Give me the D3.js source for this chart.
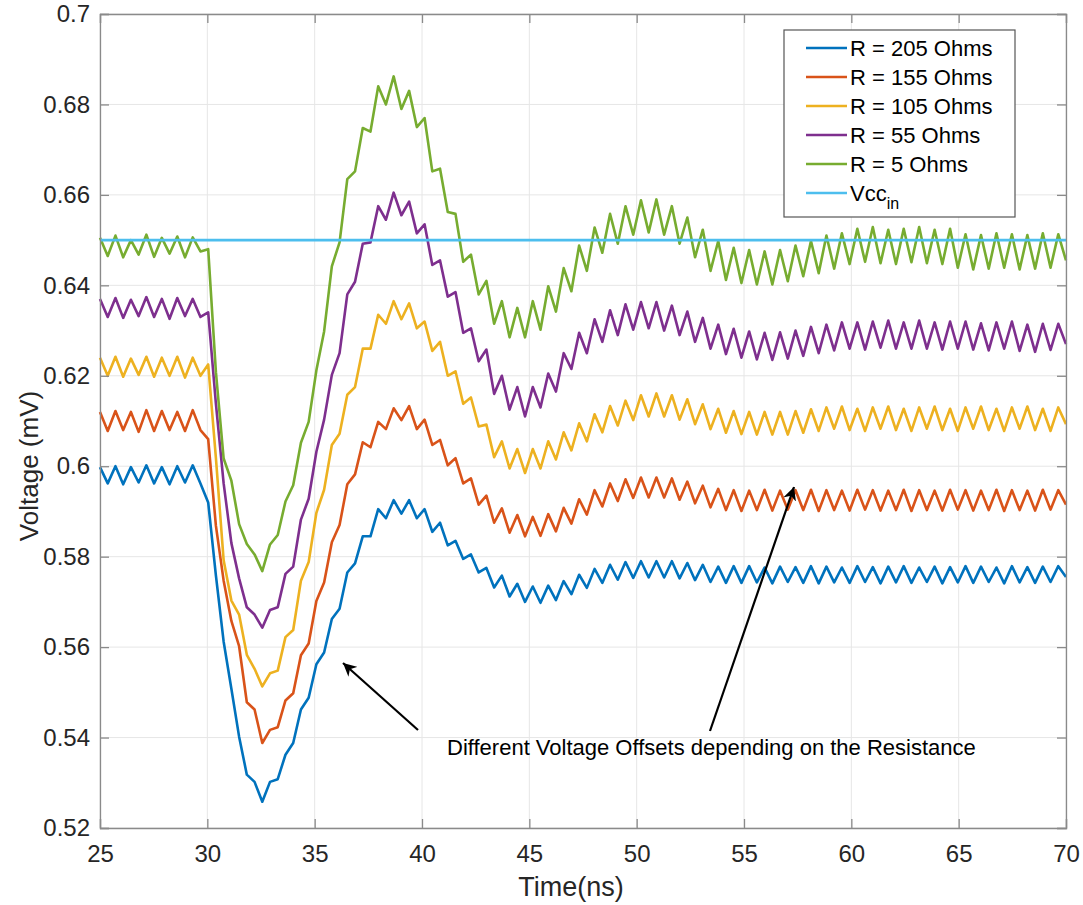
<!DOCTYPE html>
<html>
<head>
<meta charset="utf-8">
<script src="https://cdnjs.cloudflare.com/ajax/libs/d3/7.8.5/d3.min.js"></script>
<style>
	body{margin:0;background:#fff;}
	text{font-family:"Liberation Sans", Arial, sans-serif;}
</style>
</head>
<body>
<script>
// sample times (ns)
var times = [25, 25.36, 25.72, 26.08, 26.44, 26.8, 27.16, 27.52, 27.88, 28.24, 28.6, 28.96, 29.32, 29.68, 30.04, 30.4, 30.76, 31.12, 31.48, 31.84,
	32.2, 32.56, 32.92, 33.28, 33.64, 34, 34.36, 34.72, 35.08, 35.44, 35.8, 36.16, 36.52, 36.88, 37.24, 37.6, 37.96, 38.32, 38.68, 39.04,
	39.4, 39.76, 40.12, 40.48, 40.84, 41.2, 41.56, 41.92, 42.28, 42.64, 43, 43.36, 43.72, 44.08, 44.44, 44.8, 45.16, 45.52, 45.88, 46.24,
	46.6, 46.96, 47.32, 47.68, 48.04, 48.4, 48.76, 49.12, 49.48, 49.84, 50.2, 50.56, 50.92, 51.28, 51.64, 52, 52.36, 52.72, 53.08, 53.44,
	53.8, 54.16, 54.52, 54.88, 55.24, 55.6, 55.96, 56.32, 56.68, 57.04, 57.4, 57.76, 58.12, 58.48, 58.84, 59.2, 59.56, 59.92, 60.28, 60.64,
	61, 61.36, 61.72, 62.08, 62.44, 62.8, 63.16, 63.52, 63.88, 64.24, 64.6, 64.96, 65.32, 65.68, 66.04, 66.4, 66.76, 67.12, 67.48, 67.84,
	68.2, 68.56, 68.92, 69.28, 69.64, 70];

var r205 = [0.5998, 0.5962, 0.6000, 0.5960, 0.5998, 0.5964, 0.6002, 0.5962, 0.5998, 0.5960,
	0.6000, 0.5964, 0.6002, 0.5962, 0.5920, 0.5758, 0.5612, 0.5508, 0.5402, 0.5318,
	0.5302, 0.5258, 0.5302, 0.5308, 0.5362, 0.5388, 0.5462, 0.5488, 0.5562, 0.5588,
	0.5662, 0.5685, 0.5765, 0.5785, 0.5845, 0.5845, 0.5905, 0.5885, 0.5925, 0.5895,
	0.5925, 0.5885, 0.5905, 0.5855, 0.5875, 0.5825, 0.5835, 0.5795, 0.5805, 0.5765,
	0.5775, 0.5732, 0.5758, 0.5712, 0.5740, 0.5700, 0.5734, 0.5698, 0.5736, 0.5704,
	0.5746, 0.5717, 0.5760, 0.5731, 0.5773, 0.5742, 0.5782, 0.5749, 0.5788, 0.5753,
	0.5790, 0.5754, 0.5790, 0.5754, 0.5790, 0.5752, 0.5786, 0.5748, 0.5782, 0.5744,
	0.5778, 0.5742, 0.5779, 0.5742, 0.5779, 0.5743, 0.5776, 0.5741, 0.5778, 0.5744,
	0.5777, 0.5742, 0.5779, 0.5741, 0.5778, 0.5743, 0.5776, 0.5742, 0.5779, 0.5744,
	0.5777, 0.5741, 0.5778, 0.5743, 0.5779, 0.5742, 0.5776, 0.5744, 0.5778, 0.5741,
	0.5777, 0.5743, 0.5779, 0.5742, 0.5778, 0.5744, 0.5776, 0.5741, 0.5779, 0.5743,
	0.5777, 0.5742, 0.5778, 0.5744, 0.5779, 0.5755];

var r155 = [0.6120, 0.6078, 0.6122, 0.6080, 0.6120, 0.6076, 0.6124, 0.6078, 0.6122, 0.6080,
	0.6120, 0.6078, 0.6124, 0.6080, 0.6060, 0.5868, 0.5747, 0.5658, 0.5602, 0.5478,
	0.5462, 0.5388, 0.5417, 0.5423, 0.5482, 0.5498, 0.5582, 0.5608, 0.5702, 0.5743,
	0.5832, 0.5870, 0.5960, 0.5982, 0.6053, 0.6042, 0.6098, 0.6082, 0.6128, 0.6102,
	0.6133, 0.6082, 0.6103, 0.6047, 0.6058, 0.6002, 0.6018, 0.5962, 0.5973, 0.5915,
	0.5935, 0.5875, 0.5907, 0.5853, 0.5892, 0.5845, 0.5888, 0.5846, 0.5894, 0.5856,
	0.5908, 0.5873, 0.5927, 0.5893, 0.5947, 0.5911, 0.5962, 0.5923, 0.5971, 0.5930,
	0.5975, 0.5931, 0.5975, 0.5931, 0.5973, 0.5926, 0.5966, 0.5918, 0.5957, 0.5909,
	0.5950, 0.5903, 0.5947, 0.5901, 0.5946, 0.5903, 0.5948, 0.5902, 0.5946, 0.5904,
	0.5947, 0.5903, 0.5948, 0.5901, 0.5947, 0.5903, 0.5946, 0.5902, 0.5948, 0.5904,
	0.5947, 0.5902, 0.5946, 0.5903, 0.5948, 0.5901, 0.5947, 0.5903, 0.5946, 0.5902,
	0.5948, 0.5904, 0.5947, 0.5902, 0.5946, 0.5903, 0.5948, 0.5901, 0.5947, 0.5903,
	0.5946, 0.5902, 0.5948, 0.5904, 0.5947, 0.5915];

var r105 = [0.6240, 0.6200, 0.6242, 0.6198, 0.6238, 0.6202, 0.6242, 0.6198, 0.6240, 0.6200,
	0.6242, 0.6196, 0.6240, 0.6200, 0.6225, 0.6018, 0.5792, 0.5703, 0.5672, 0.5583,
	0.5552, 0.5513, 0.5542, 0.5548, 0.5622, 0.5638, 0.5747, 0.5788, 0.5897, 0.5948,
	0.6047, 0.6072, 0.6158, 0.6175, 0.6260, 0.6260, 0.6335, 0.6315, 0.6365, 0.6325,
	0.6360, 0.6305, 0.6320, 0.6255, 0.6275, 0.6200, 0.6210, 0.6138, 0.6152, 0.6088,
	0.6092, 0.6020, 0.6055, 0.5995, 0.6038, 0.5985, 0.6038, 0.5995, 0.6055, 0.6015,
	0.6075, 0.6035, 0.6095, 0.6055, 0.6115, 0.6075, 0.6133, 0.6090, 0.6145, 0.6102,
	0.6157, 0.6110, 0.6161, 0.6110, 0.6157, 0.6103, 0.6148, 0.6093, 0.6137, 0.6082,
	0.6127, 0.6074, 0.6122, 0.6071, 0.6120, 0.6070, 0.6120, 0.6070, 0.6120, 0.6070,
	0.6122, 0.6074, 0.6126, 0.6078, 0.6130, 0.6083, 0.6132, 0.6080, 0.6127, 0.6078,
	0.6130, 0.6083, 0.6132, 0.6080, 0.6127, 0.6078, 0.6130, 0.6083, 0.6132, 0.6080,
	0.6127, 0.6078, 0.6130, 0.6083, 0.6132, 0.6080, 0.6127, 0.6078, 0.6130, 0.6083,
	0.6132, 0.6080, 0.6127, 0.6078, 0.6130, 0.6093];

var r55 = [0.6370, 0.6330, 0.6372, 0.6328, 0.6368, 0.6332, 0.6374, 0.6330, 0.6370, 0.6326,
	0.6372, 0.6332, 0.6370, 0.6330, 0.6340, 0.6138, 0.5962, 0.5830, 0.5752, 0.5688,
	0.5672, 0.5643, 0.5682, 0.5688, 0.5762, 0.5778, 0.5882, 0.5928, 0.6032, 0.6103,
	0.6202, 0.6250, 0.6380, 0.6408, 0.6492, 0.6495, 0.6575, 0.6545, 0.6605, 0.6555,
	0.6585, 0.6515, 0.6535, 0.6445, 0.6455, 0.6375, 0.6385, 0.6295, 0.6305, 0.6232,
	0.6258, 0.6160, 0.6200, 0.6125, 0.6175, 0.6110, 0.6175, 0.6130, 0.6205, 0.6165,
	0.6250, 0.6215, 0.6295, 0.6250, 0.6325, 0.6275, 0.6345, 0.6290, 0.6358, 0.6302,
	0.6363, 0.6305, 0.6363, 0.6300, 0.6355, 0.6290, 0.6342, 0.6275, 0.6328, 0.6260,
	0.6313, 0.6248, 0.6304, 0.6240, 0.6298, 0.6236, 0.6295, 0.6235, 0.6296, 0.6238,
	0.6300, 0.6244, 0.6308, 0.6250, 0.6313, 0.6256, 0.6318, 0.6260, 0.6318, 0.6258,
	0.6320, 0.6262, 0.6322, 0.6260, 0.6318, 0.6260, 0.6322, 0.6260, 0.6318, 0.6258,
	0.6320, 0.6260, 0.6320, 0.6258, 0.6316, 0.6256, 0.6318, 0.6260, 0.6320, 0.6255,
	0.6313, 0.6253, 0.6315, 0.6257, 0.6315, 0.6270];

var r5 = [0.6505, 0.6465, 0.6510, 0.6462, 0.6500, 0.6468, 0.6512, 0.6463, 0.6505, 0.6470,
	0.6508, 0.6462, 0.6506, 0.6475, 0.6480, 0.6208, 0.6017, 0.5968, 0.5872, 0.5828,
	0.5805, 0.5768, 0.5827, 0.5848, 0.5922, 0.5958, 0.6052, 0.6098, 0.6212, 0.6298,
	0.6442, 0.6495, 0.6635, 0.6652, 0.6748, 0.6740, 0.6840, 0.6800, 0.6862, 0.6790,
	0.6830, 0.6750, 0.6770, 0.6652, 0.6658, 0.6562, 0.6558, 0.6452, 0.6468, 0.6380,
	0.6410, 0.6315, 0.6365, 0.6285, 0.6350, 0.6285, 0.6365, 0.6302, 0.6398, 0.6342,
	0.6438, 0.6387, 0.6488, 0.6432, 0.6528, 0.6472, 0.6558, 0.6492, 0.6575, 0.6512,
	0.6588, 0.6517, 0.6590, 0.6512, 0.6575, 0.6492, 0.6550, 0.6462, 0.6523, 0.6432,
	0.6498, 0.6412, 0.6483, 0.6405, 0.6478, 0.6402, 0.6475, 0.6402, 0.6478, 0.6409,
	0.6488, 0.6420, 0.6498, 0.6427, 0.6510, 0.6437, 0.6515, 0.6447, 0.6525, 0.6452,
	0.6529, 0.6449, 0.6523, 0.6447, 0.6525, 0.6451, 0.6529, 0.6449, 0.6523, 0.6447,
	0.6525, 0.6439, 0.6513, 0.6435, 0.6511, 0.6437, 0.6515, 0.6439, 0.6513, 0.6435,
	0.6511, 0.6437, 0.6515, 0.6439, 0.6513, 0.6455];

var vccIn = 0.65;

var seriesNames = ["R = 205 Ohms", "R = 155 Ohms", "R = 105 Ohms", "R = 55 Ohms", "R = 5 Ohms"];
var seriesColors = ["#0072bd", "#d95319", "#edb120", "#7e2f8e", "#77ac30"];
var vccColor = "#4dbeee";

var xTicks = [25, 30, 35, 40, 45, 50, 55, 60, 65, 70];
var yTicks = [0.52, 0.54, 0.56, 0.58, 0.6, 0.62, 0.64, 0.66, 0.68, 0.7];
var yTickLabels = ["0.52", "0.54", "0.56", "0.58", "0.6", "0.62", "0.64", "0.66", "0.68", "0.7"];

var noteText = "Different Voltage Offsets depending on the Resistance";

function drawChart(){
	var w = 1083;
	var h = 905;
	var left = 100, right = 1066, top = 14, bottom = 828;

	var svg = d3.select("body")
		.append("svg")
		.attr("width", w)
		.attr("height", h);

	var x = d3.scaleLinear().domain([25, 70]).range([left, right]);
	var y = d3.scaleLinear().domain([0.52, 0.7]).range([bottom, top]);

	//grid
	svg.append("g").selectAll("line").data(xTicks).enter().append("line")
		.attr("x1", function(d){return x(d)}).attr("x2", function(d){return x(d)})
		.attr("y1", top).attr("y2", bottom)
		.attr("stroke", "#e6e6e6").attr("stroke-width", 1);
	svg.append("g").selectAll("line").data(yTicks).enter().append("line")
		.attr("x1", left).attr("x2", right)
		.attr("y1", function(d){return y(d)}).attr("y2", function(d){return y(d)})
		.attr("stroke", "#e6e6e6").attr("stroke-width", 1);

	var line = d3.line()
		.x(function(d){return x(d[0])})
		.y(function(d){return y(d[1])});

	var allSeries = [r205, r155, r105, r55, r5];
	for (var s = 0; s < allSeries.length; s++){
		var pts = times.map(function(t, i){return [t, allSeries[s][i]]});
		svg.append("path")
			.attr("d", line(pts))
			.attr("fill", "none")
			.attr("stroke", seriesColors[s])
			.attr("stroke-width", 2.6)
			.attr("stroke-linejoin", "round");
	}
	svg.append("path")
		.attr("d", line([[25, vccIn], [70, vccIn]]))
		.attr("stroke", vccColor)
		.attr("stroke-width", 2.6);

	//axes, ticks point inwards like matlab
	var axisColor = "#8a8a8a";
	var xAxis = svg.append("g").attr("transform", "translate(0," + bottom + ")")
		.call(d3.axisBottom(x).tickValues(xTicks).tickSize(-9).tickPadding(17).tickFormat(d3.format("d")));
	var xTop = svg.append("g").attr("transform", "translate(0," + top + ")")
		.call(d3.axisTop(x).tickValues(xTicks).tickSize(-9).tickFormat(""));
	var yAxis = svg.append("g").attr("transform", "translate(" + left + ",0)")
		.call(d3.axisLeft(y).tickValues(yTicks).tickSize(-9).tickPadding(10)
			.tickFormat(function(d, i){return yTickLabels[i]}));
	var yRight = svg.append("g").attr("transform", "translate(" + right + ",0)")
		.call(d3.axisRight(y).tickValues(yTicks).tickSize(-9).tickFormat(""));

	[xAxis, xTop, yAxis, yRight].forEach(function(g){
		g.select(".domain").attr("stroke", axisColor).attr("stroke-width", 1.3);
		g.selectAll(".tick line").attr("stroke", axisColor).attr("stroke-width", 1.3);
		g.selectAll(".tick text").attr("fill", "#262626")
			.style("font-size", "24px").style("font-family", "'Liberation Sans', Arial, sans-serif");
	});

	svg.append("text")
		.attr("x", 571).attr("y", 896)
		.attr("text-anchor", "middle")
		.attr("fill", "#262626")
		.style("font-size", "27px")
		.text("Time(ns)");
	svg.append("text")
		.attr("transform", "translate(38,466) rotate(-90)")
		.attr("text-anchor", "middle")
		.attr("fill", "#262626")
		.style("font-size", "26px")
		.text("Voltage (mV)");

	//annotation + arrows
	var defs = svg.append("defs");
	defs.append("marker")
		.attr("id", "head")
		.attr("viewBox", "0 0 10 10")
		.attr("refX", 10).attr("refY", 5)
		.attr("markerWidth", 6).attr("markerHeight", 6)
		.attr("markerUnits", "strokeWidth")
		.attr("orient", "auto")
		.append("path")
		.attr("d", "M0,0 L10,5 L0,10 L3,5 Z")
		.attr("fill", "#000");

	svg.append("line")
		.attr("x1", 418).attr("y1", 730).attr("x2", 343).attr("y2", 663)
		.attr("stroke", "#000").attr("stroke-width", 2.2)
		.attr("marker-end", "url(#head)");
	svg.append("line")
		.attr("x1", 710).attr("y1", 731).attr("x2", 794).attr("y2", 487)
		.attr("stroke", "#000").attr("stroke-width", 2.2)
		.attr("marker-end", "url(#head)");
	svg.append("text")
		.attr("x", 447).attr("y", 755)
		.attr("fill", "#000")
		.style("font-size", "22px")
		.text(noteText);

	//legend
	var lg = svg.append("g");
	lg.append("rect")
		.attr("x", 784).attr("y", 30).attr("width", 231).attr("height", 187)
		.attr("fill", "#fff").attr("stroke", "#555").attr("stroke-width", 1.2);
	var legendNames = seriesNames.concat(["Vcc"]);
	var legendColors = seriesColors.concat([vccColor]);
	for (var k = 0; k < legendNames.length; k++){
		var ry = 48 + k * 29;
		lg.append("line")
			.attr("x1", 806).attr("x2", 847).attr("y1", ry).attr("y2", ry)
			.attr("stroke", legendColors[k]).attr("stroke-width", 2.6);
		var t = lg.append("text")
			.attr("x", 850).attr("y", ry + 7.5)
			.attr("fill", "#000")
			.style("font-size", "22px")
			.text(legendNames[k]);
		if (legendNames[k] == "Vcc"){
			t.append("tspan").attr("dy", 8).style("font-size", "16px").text("in");
		}
	}
}

drawChart();
</script>
</body>
</html>
